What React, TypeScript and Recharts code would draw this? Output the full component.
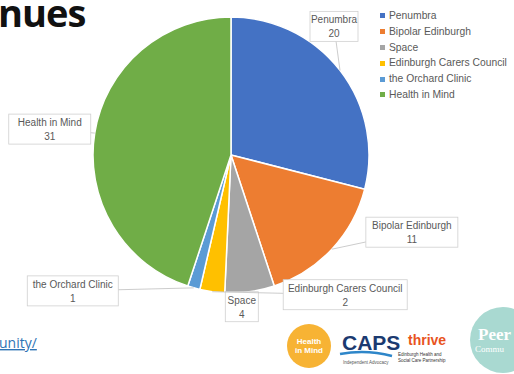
import React from 'react';
import { PieChart, Pie, Cell, Legend } from 'recharts';

const categories = ['Penumbra', 'Bipolar Edinburgh', 'Space', 'Edinburgh Carers Council', 'the Orchard Clinic', 'Health in Mind'];
const values = [20, 11, 4, 2, 1, 31];
const colors = ['#4472C4', '#ED7D31', '#A5A5A5', '#FFC000', '#5B9BD5', '#70AD47'];

// label box offsets relative to slice edge point (styling/layout only)
const labelLayout = [
  { dx: -6, dy: -44, w: 48 },
  { dx: 80, dy: -17, w: 92 },
  { dx: -8, dy: 15, w: 33 },
  { dx: 133, dy: 3, w: 124 },
  { dx: -121, dy: 3, w: 91 },
  { dx: -45, dy: -4, w: 82 },
];

const data = categories.map((name, i) => ({ name, value: values[i] }));

const FONT = '"Liberation Sans", Arial, sans-serif';
const TXT = '#595959';

const renderLabel = (props: any) => {
  const { cx, cy, midAngle, outerRadius, index, name, value } = props;
  const RAD = Math.PI / 180;
  const ex = cx + outerRadius * Math.cos(-midAngle * RAD);
  const ey = cy + outerRadius * Math.sin(-midAngle * RAD);
  const L = labelLayout[index];
  const bx = ex + L.dx;
  const by = ey + L.dy;
  const h = 30;
  return (
    <g key={`lbl-${index}`}>
      <line x1={ex} y1={ey} x2={bx} y2={by} stroke="#BFBFBF" strokeWidth={0.8} />
      <rect x={bx - L.w / 2} y={by - h / 2} width={L.w} height={h} fill="#FFFFFF" stroke="#D0D0D0" strokeWidth={0.8} />
      <text x={bx} y={by - 3} textAnchor="middle" fontSize={10} fontFamily={FONT} fill={TXT}>{name}</text>
      <text x={bx} y={by + 11} textAnchor="middle" fontSize={10} fontFamily={FONT} fill={TXT}>{value}</text>
    </g>
  );
};

const renderLegend = () => (
  <div style={{ fontFamily: FONT, fontSize: 10.3, color: TXT }}>
    {categories.map((c, i) => (
      <div key={c} style={{ height: 15.8, lineHeight: '15.8px', display: 'flex', alignItems: 'center', whiteSpace: 'nowrap' }}>
        <span style={{ display: 'inline-block', width: 5, height: 5, background: colors[i], marginRight: 4 }} />
        <span>{c}</span>
      </div>
    ))}
  </div>
);

export default function App() {
  return (
    <div style={{ position: 'fixed', left: 0, top: 0, width: 514, height: 374, background: '#fff', overflow: 'hidden' }}>
      <svg width={514} height={374} style={{ position: 'absolute', left: 0, top: 0 }}>
        <text x={-2} y={27} fontSize={38} fontWeight={700} fontFamily='"Open Sans", sans-serif' fill="#111" letterSpacing={-1}>nues</text>
        <text x={-1} y={348} fontSize={14} fontFamily='"Open Sans", sans-serif' fill="#2E74B5" textDecoration="underline">unity/</text>
        {/* logos */}
        <circle cx={309} cy={346} r={22} fill="#F7B334" />
        <text x={309} y={344} textAnchor="middle" fontSize={8} fontWeight={700} fill="#fff" fontFamily={FONT}>Health</text>
        <text x={309} y={353} textAnchor="middle" fontSize={8} fontWeight={700} fill="#fff" fontFamily={FONT}>in Mind</text>
        <text x={342} y={350} fontSize={21} fontWeight={900} fill="#1B3A70" fontFamily={FONT}>CAPS</text>
        <path d="M340 354 Q366 349 392 356" stroke="#2E86C9" strokeWidth={2.5} fill="none" />
        <text x={343} y={364} fontSize={4.5} fill="#555" fontFamily={FONT}>Independent Advocacy</text>
        <text x={408} y={345} fontSize={14} fontWeight={700} fill="#E8541E" fontFamily={FONT}>thrive</text>
        <text x={398} y={356} fontSize={4.5} fill="#333" fontFamily={FONT}>Edinburgh Health and</text>
        <text x={398} y={362} fontSize={4.5} fill="#333" fontFamily={FONT}>Social Care Partnership</text>
        <circle cx={503} cy={340} r={33} fill="#A9D9D1" />
        <text x={478} y={340} fontSize={17} fontWeight={700} fill="#fff" fontFamily="serif">Peer</text>
        <text x={475} y={352} fontSize={9} fill="#fff" fontFamily="serif">Commu</text>
      </svg>
      <div style={{ position: 'absolute', left: 0, top: 0 }}>
        <PieChart width={514} height={374} margin={{ top: 0, right: 0, bottom: 0, left: 0 }}>
          <Pie
            data={data}
            dataKey="value"
            nameKey="name"
            cx={231}
            cy={155}
            outerRadius={138}
            startAngle={90}
            endAngle={-270}
            stroke="#FFFFFF"
            strokeWidth={1.5}
            label={renderLabel}
            labelLine={false}
            isAnimationActive={false}
          >
            {data.map((d, i) => (
              <Cell key={d.name} fill={colors[i]} />
            ))}
          </Pie>
          <Legend
            layout="vertical"
            verticalAlign="top"
            align="right"
            content={renderLegend}
            wrapperStyle={{ position: 'absolute', left: 380, top: 8, width: 134 }}
          />
        </PieChart>
      </div>
    </div>
  );
}
